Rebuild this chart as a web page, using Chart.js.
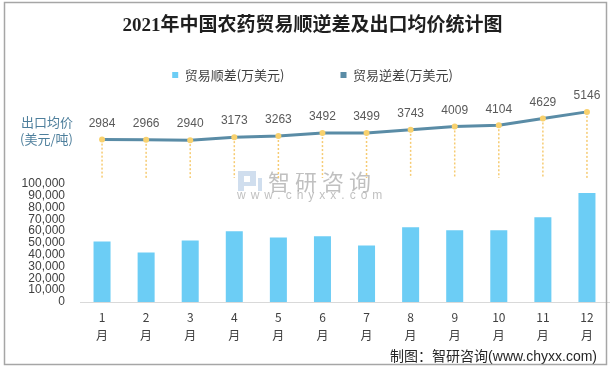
<!DOCTYPE html>
<html><head><meta charset="utf-8">
<script src="https://cdn.jsdelivr.net/npm/chart.js@4/dist/chart.umd.min.js"></script>
<style>
html,body{margin:0;padding:0;background:#fff;}
#wrap{position:relative;width:614px;height:370px;}
canvas{display:block;}
</style></head><body>
<div id="wrap"><canvas id="c" width="614" height="370"></canvas></div>
<script>
// ---- data ----
const months = ['1','2','3','4','5','6','7','8','9','10','11','12'];
const monthSuffix = '月';
const surplus = [51300, 41900, 52100, 59800, 54700, 55600, 47900, 63200, 60700, 60700, 71800, 92300];
const exportPrice = [2984, 2966, 2940, 3173, 3263, 3492, 3499, 3743, 4009, 4104, 4629, 5146];
const surplusName = '贸易顺差(万美元)';
const deficitName = '贸易逆差(万美元)';
const yTickMax = 100000;
const yTickStep = 10000;
const titleText = '2021年中国农药贸易顺逆差及出口均价统计图';
const priceAxisLines = ['出口均价', '(美元/吨)'];
const sourceText = '制图：智研咨询(www.chyxx.com)';
const watermarkMain = '智研咨询';
const watermarkSub = 'www.chyxx.com';

const SANS = '"Liberation Sans","Noto Sans CJK SC",sans-serif';
const CJK = '"Noto Sans CJK SC","Liberation Sans",sans-serif';
Chart.defaults.font.family = SANS;
Chart.defaults.color = '#404040';

const overlay = {
  id: 'overlay',
  beforeDatasetsDraw(chart) {
    const ctx = chart.ctx;
    // watermark
    ctx.save();
    ctx.fillStyle = 'rgba(120,160,205,0.35)';
    ctx.fillRect(238, 171, 6, 20);
    ctx.fillRect(244, 171, 12, 5);
    ctx.fillRect(250, 176, 6, 6);
    ctx.fillRect(244, 182, 12, 4);
    ctx.fillRect(258, 178, 4, 13);
    ctx.fillStyle = 'rgba(140,140,140,0.55)';
    ctx.font = '22px ' + CJK;
    ctx.textBaseline = 'middle';
    ctx.textAlign = 'left';
    ctx.letterSpacing = '5px';
    ctx.fillText(watermarkMain, 268, 182);
    ctx.font = '12px ' + SANS;
    ctx.letterSpacing = '5px';
    ctx.fillText(watermarkSub, 237, 196);
    ctx.restore();
    // dotted leaders
    const meta = chart.getDatasetMeta(1);
    const yEnd = chart.scales.y.getPixelForValue(105000);
    ctx.save();
    ctx.strokeStyle = '#F6CB72';
    ctx.lineWidth = 1.5;
    ctx.setLineDash([2, 2]);
    meta.data.forEach(p => {
      ctx.beginPath();
      ctx.moveTo(p.x, p.y);
      ctx.lineTo(p.x, yEnd);
      ctx.stroke();
    });
    ctx.restore();
  },
  afterDatasetsDraw(chart) {
    const ctx = chart.ctx;
    const meta = chart.getDatasetMeta(1);
    ctx.save();
    ctx.font = '12px ' + SANS;
    ctx.fillStyle = '#595959';
    ctx.textAlign = 'center';
    ctx.textBaseline = 'middle';
    meta.data.forEach((p, i) => {
      ctx.fillText(String(exportPrice[i]), p.x, p.y - 16);
    });
    ctx.restore();
  },
  afterDraw(chart) {
    const ctx = chart.ctx;
    ctx.save();
    // price axis caption
    ctx.font = '13px ' + CJK;
    ctx.fillStyle = '#4E7F9C';
    ctx.textAlign = 'left';
    ctx.textBaseline = 'middle';
    ctx.fillText(priceAxisLines[0], 21, 122);
    ctx.fillText(priceAxisLines[1], 20, 139);
    // source
    ctx.font = '14px ' + SANS;
    ctx.fillStyle = '#262626';
    ctx.textAlign = 'right';
    ctx.fillText(sourceText, 597, 357);
    // frame
    ctx.strokeStyle = '#A6A6A6';
    ctx.lineWidth = 1.5;
    ctx.strokeRect(4.5, 2.5, 602, 362);
    ctx.restore();
  }
};

new Chart(document.getElementById('c'), {
  data: {
    labels: months.map(m => [m, monthSuffix]),
    datasets: [
      {
        type: 'bar',
        label: surplusName,
        data: surplus,
        yAxisID: 'y',
        backgroundColor: '#6CCDF5',
        barPercentage: 0.386,
        categoryPercentage: 1
      },
      {
        type: 'line',
        label: deficitName,
        data: exportPrice,
        yAxisID: 'y2',
        borderColor: '#5A8CA6',
        backgroundColor: '#5A8CA6',
        borderWidth: 3,
        pointRadius: 3,
        pointHoverRadius: 3,
        pointBackgroundColor: '#F8D16E',
        pointBorderWidth: 0,
        tension: 0,
        clip: false
      }
    ]
  },
  options: {
    responsive: false,
    animation: false,
    locale: 'en-US',
    events: [],
    layout: { padding: { left: 16, right: 5, top: 0, bottom: 20 } },
    plugins: {
      title: {
        display: true,
        text: titleText,
        color: '#1F1F1F',
        font: { size: 19, weight: 'bold', family: '"Liberation Serif","Noto Sans CJK SC",serif' },
        padding: { top: 15, bottom: -25.3 }
      },
      legend: {
        display: true,
        position: 'top',
        labels: {
          boxWidth: 6,
          boxHeight: 6,
          padding: 56,
          color: '#404040',
          font: { size: 13, family: CJK },
          generateLabels(chart) {
            const items = Chart.defaults.plugins.legend.labels.generateLabels(chart);
            return items.map(it => Object.assign({}, it, {
              fillStyle: chart.data.datasets[it.datasetIndex].backgroundColor,
              strokeStyle: 'rgba(0,0,0,0)',
              lineWidth: 0
            }));
          }
        }
      },
      tooltip: { enabled: false }
    },
    scales: {
      x: {
        grid: { display: false, drawTicks: false },
        border: { display: true, color: '#D9D9D9', width: 1 },
        ticks: { font: { size: 12, lineHeight: 1.5, family: CJK }, color: '#404040', padding: 6, maxRotation: 0, autoSkip: false }
      },
      y: {
        position: 'left',
        min: 0,
        max: 178200,
        grid: { display: false, drawTicks: false },
        border: { display: false },
        ticks: { autoSkip: false, padding: 15, font: { size: 12, family: SANS }, color: '#404040' },
        afterBuildTicks(axis) {
          const t = [];
          for (let v = 0; v <= yTickMax; v += yTickStep) t.push({ value: v });
          axis.ticks = t;
        },
        afterFit(axis) { axis.width = 64; }
      },
      y2: {
        display: false,
        min: -9689,
        max: 6737
      }
    }
  },
  plugins: [overlay]
});
</script>
</body></html>
